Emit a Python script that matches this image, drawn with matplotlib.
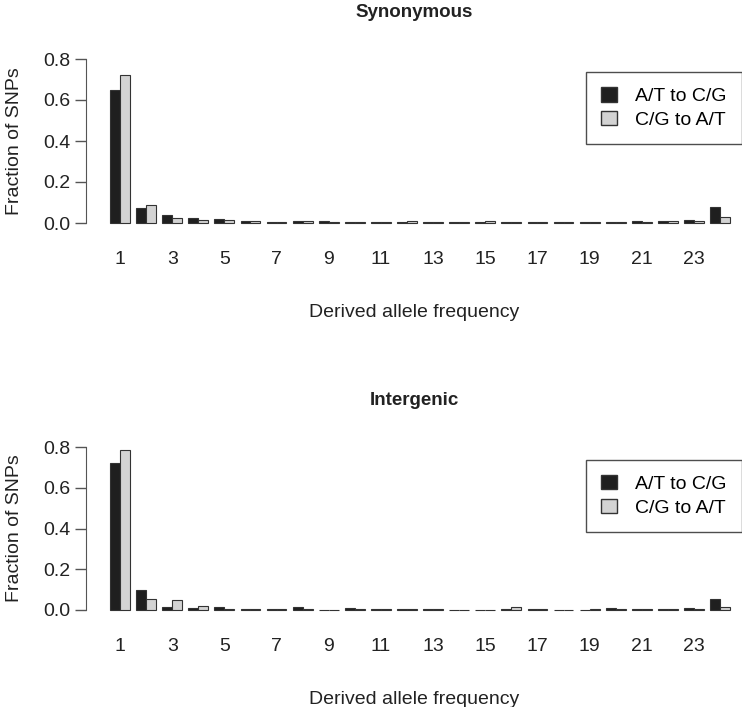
import matplotlib
matplotlib.use("Agg")
import matplotlib.pyplot as plt
from matplotlib.patches import Patch
import numpy as np

plt.rcParams['font.family'] = ['Liberation Sans', 'DejaVu Sans']

groups = list(range(1, 25))
tick_labels = [str(g) for g in range(1, 24, 2)]
series_names = ["A/T to C/G", "C/G to A/T"]

syn_at_cg = [0.65, 0.075, 0.040, 0.024, 0.018, 0.008, 0.007, 0.009, 0.008, 0.006,
             0.005, 0.006, 0.004, 0.005, 0.006, 0.005, 0.006, 0.007, 0.006, 0.005,
             0.009, 0.008, 0.013, 0.080]
syn_cg_at = [0.72, 0.090, 0.024, 0.013, 0.016, 0.008, 0.006, 0.009, 0.007, 0.006,
             0.005, 0.010, 0.006, 0.003, 0.008, 0.004, 0.006, 0.005, 0.004, 0.004,
             0.006, 0.008, 0.010, 0.030]

int_at_cg = [0.72, 0.097, 0.017, 0.008, 0.015, 0.007, 0.003, 0.013, 0.002, 0.008,
             0.004, 0.005, 0.006, 0.002, 0.002, 0.005, 0.003, 0.002, 0.002, 0.008,
             0.005, 0.003, 0.009, 0.052]
int_cg_at = [0.785, 0.054, 0.050, 0.020, 0.003, 0.004, 0.006, 0.005, 0.002, 0.003,
             0.004, 0.003, 0.006, 0.002, 0.002, 0.015, 0.005, 0.002, 0.004, 0.005,
             0.003, 0.003, 0.004, 0.015]

panels = [("Synonymous", syn_at_cg, syn_cg_at),
          ("Intergenic", int_at_cg, int_cg_at)]

W, H = 742, 707
fig = plt.figure(figsize=(W / 100, H / 100), dpi=100)

dark = "#1f1f1f"
light = "#d3d3d3"
edge = "#333333"
txt = "#222222"
FS = 14

# pixel layout for each panel: (y of 0.8, y of 0.0)
pix = [(59, 223), (447, 610)]
x_left_px, x_right_px = 86, 742
c1_px, step_px = 120, 26.09
bw = 0.38

for (title, a, b), (ytop, ybot) in zip(panels, pix):
    ax = fig.add_axes([x_left_px / W, 1 - ybot / H,
                       (x_right_px - x_left_px) / W, (ybot - ytop) / H])
    x = np.array(groups, dtype=float)
    ax.bar(x - bw / 2, a, width=bw, color=dark, edgecolor=edge, linewidth=0.8, clip_on=False)
    ax.bar(x + bw / 2, b, width=bw, color=light, edgecolor=edge, linewidth=0.8, clip_on=False)
    xl = 1 - (c1_px - x_left_px) / step_px
    xr = 1 + (x_right_px - c1_px) / step_px
    ax.set_xlim(xl, xr)
    ax.set_ylim(0, 0.8)
    for s in ["top", "right", "bottom"]:
        ax.spines[s].set_visible(False)
    ax.spines["left"].set_bounds(0, 0.8)
    ax.spines["left"].set_color("#555555")
    ax.set_yticks([0, 0.2, 0.4, 0.6, 0.8])
    ax.set_yticklabels(["0.0", "0.2", "0.4", "0.6", "0.8"])
    ax.tick_params(axis="y", length=8, width=1, color="#555555", labelsize=FS,
                   pad=3, labelcolor=txt)
    ax.set_xticks(list(range(1, 24, 2)))
    ax.set_xticklabels(tick_labels)
    ax.tick_params(axis="x", length=0, labelsize=FS, pad=20, labelcolor=txt)
    ax.set_ylabel("Fraction of SNPs", fontsize=FS, color=txt, labelpad=15)
    ax.set_xlabel("Derived allele frequency", fontsize=FS, color=txt, labelpad=26)
    ax.set_title(title, fontsize=13.5, fontweight="bold", color=txt, pad=30)
    handles = [Patch(facecolor=dark, edgecolor=edge), Patch(facecolor=light, edgecolor=edge)]
    leg = ax.legend(handles, series_names, loc="upper right", bbox_to_anchor=(1.0, 0.92),
                    fontsize=FS, frameon=True, fancybox=False, handlelength=0.82,
                    handleheight=0.75, handletextpad=0.93, borderpad=0.78, labelspacing=0.3,
                    borderaxespad=0.0)
    leg.get_frame().set_edgecolor(txt)
    leg.get_frame().set_linewidth(1.0)

fig.savefig("out.png", dpi=100)
